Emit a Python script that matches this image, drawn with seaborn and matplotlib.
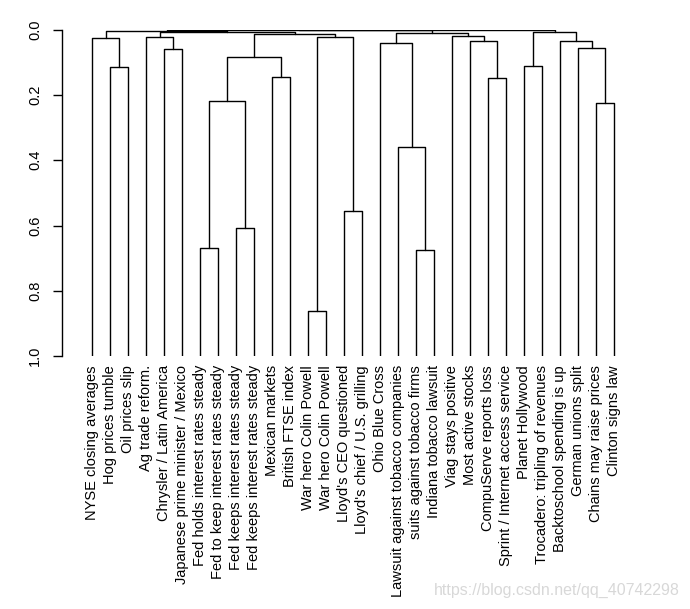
import matplotlib
matplotlib.use("Agg")
import matplotlib.pyplot as plt
import pandas as pd
import seaborn as sns

# leaves, in the order they appear on the dendrogram
leaf_labels = [
    "NYSE closing averages", "Hog prices tumble", "Oil prices slip",
    "Ag trade reform.", "Chrysler / Latin America",
    "Japanese prime minister / Mexico", "Fed holds interest rates steady",
    "Fed to keep interest rates steady", "Fed keeps interest rates steady",
    "Fed keeps interest rates steady", "Mexican markets", "British FTSE index",
    "War hero Colin Powell", "War hero Colin Powell", "Lloyd's CEO questioned",
    "Lloyd's chief / U.S. grilling", "Ohio Blue Cross",
    "Lawsuit against tobacco companies", "suits against tobacco firms",
    "Indiana tobacco lawsuit", "Viag stays positive", "Most active stocks",
    "CompuServe reports loss", "Sprint / Internet access service",
    "Planet Hollywood", "Trocadero: tripling of revenues",
    "Backtoschool spending is up", "German unions split",
    "Chains may raise prices", "Clinton signs law",
]
leaf_height = 1.0

# merges: ids < 30 are leaves, id 30 + k is the k-th merge
merge_left = [12, 18, 6, 8, 14, 17, 28, 32, 22, 10, 1, 24, 37, 4, 27,
              16, 21, 26, 0, 3, 30, 20, 42, 45, 49, 41, 48, 56, 57]
merge_right = [13, 19, 7, 9, 15, 31, 29, 33, 23, 11, 2, 25, 39, 5, 36,
               35, 38, 44, 40, 43, 34, 46, 50, 51, 52, 47, 54, 53, 55]
merge_height = [0.863, 0.676, 0.670, 0.609, 0.557, 0.360, 0.226, 0.218,
                0.149, 0.146, 0.115, 0.112, 0.085, 0.060, 0.057, 0.042,
                0.036, 0.036, 0.026, 0.023, 0.023, 0.020, 0.014, 0.011,
                0.008, 0.008, 0.003, 0.001, 0.000]

n = len(leaf_labels)
node_x = {i: float(i) for i in range(n)}
node_h = {i: leaf_height for i in range(n)}
rows = []
for k, (a, b, h) in enumerate(zip(merge_left, merge_right, merge_height)):
    node = n + k
    node_x[node] = (node_x[a] + node_x[b]) / 2
    node_h[node] = h
    for step, (x, y) in enumerate([(node_x[a], node_h[a]), (node_x[a], h),
                                   (node_x[b], h), (node_x[b], node_h[b])]):
        rows.append({"link": k, "step": step, "x": x, "height": y})
segments = pd.DataFrame(rows)

sns.set_theme(style="ticks")
plt.rcParams["font.family"] = ["Liberation Sans", "DejaVu Sans"]

fig = plt.figure(figsize=(6.9, 6.09), dpi=100)
ax = fig.add_axes([0.0903, 0.4154, 0.8435, 0.5358])
sns.lineplot(
    data=segments, x="x", y="height", units="link", estimator=None,
    sort=False, color="black", linewidth=1.0, legend=False, ax=ax,
)

ax.set_xlim(-1.67, n - 1 + 1.67)
ax.set_ylim(1.0, 0.0)
ax.set_xticks(range(n))
ax.set_xticklabels(leaf_labels, rotation=90, fontsize=10.5, color="black")
ax.tick_params(axis="x", length=0, pad=6.5)
yt = [0.0, 0.2, 0.4, 0.6, 0.8, 1.0]
ax.set_yticks(yt)
ax.set_yticklabels([f"{v:.1f}" for v in yt], rotation=90, va="center",
                   fontsize=10.5, color="black")
ax.tick_params(axis="y", length=6.5, width=1.0, pad=8, color="black")
ax.set_xlabel("")
ax.set_ylabel("")
for side in ["top", "right", "bottom"]:
    ax.spines[side].set_visible(False)
ax.spines["left"].set_bounds(0.0, 1.0)
ax.spines["left"].set_color("black")
ax.spines["left"].set_linewidth(1.0)

fig.text(0.985, 0.031, "https://blog.csdn.net/qq_40742298", ha="right",
         va="center", fontsize=11.5, color="#d8d8d8")

fig.savefig("out.png", dpi=100)
plt.close(fig)
